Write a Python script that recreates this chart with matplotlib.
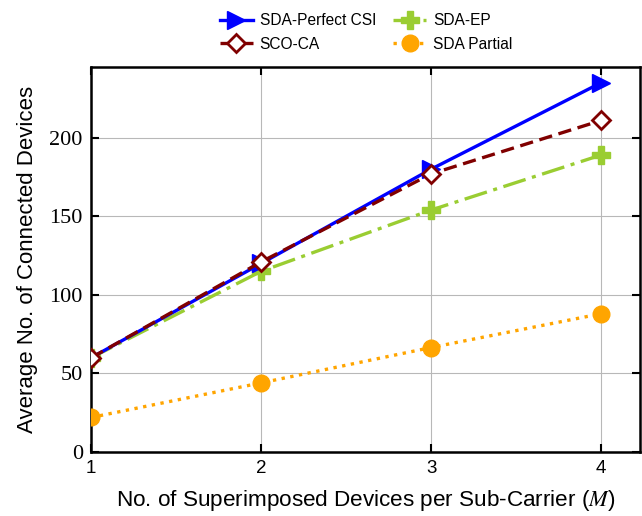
import matplotlib
matplotlib.use("Agg")
import matplotlib.pyplot as plt

plt.rcParams['font.family'] = ['Liberation Sans', 'DejaVu Sans']
plt.rcParams['mathtext.fontset'] = 'stix'

# data
M = [1, 2, 3, 4]
sda_perfect = [60, 120, 180, 235]
sco_ca = [60, 121, 177, 211]
sda_ep = [60, 115, 154, 189]
sda_partial = [22, 44, 66.5, 88]

fig = plt.figure(figsize=(6.42, 5.16), dpi=100)
ax = fig.add_axes([0.142, 0.124, 0.855, 0.746])

ax.plot(M, sda_perfect, color='#0000ff', ls='-', lw=2.4, marker='>', ms=13,
        label='SDA-Perfect CSI', zorder=5)
ax.plot(M, sco_ca, color='#800000', ls='--', lw=2.4, marker='D', ms=9,
        mfc='white', mew=2, label='SCO-CA', dashes=(4, 2), zorder=6)
ax.plot(M, sda_ep, color='#9acd32', ls='-.', lw=2.4, marker='P', ms=13,
        label='SDA-EP', dashes=(7, 2, 1.2, 2), zorder=4)
ax.plot(M, sda_partial, color='#ffa500', ls=':', lw=2.4, marker='o', ms=12,
        label='SDA Partial', zorder=3)

ax.set_xlim(1, 4.23)
ax.set_ylim(0, 245)
ax.set_xticks(M)
ax.set_yticks([0, 50, 100, 150, 200])
ax.grid(True, color='#b8b8b8', lw=0.8)
ax.tick_params(direction='in', top=True, right=True, length=6, width=1.5)
ax.tick_params(axis='x', labelsize=13.5, pad=6)
ax.tick_params(axis='y', labelsize=16, pad=6)
for lbl in ax.get_yticklabels():
    lbl.set_family(['Liberation Serif', 'DejaVu Serif'])
for s in ax.spines.values():
    s.set_linewidth(1.8)

ax.set_xlabel(r'No. of Superimposed Devices per Sub-Carrier ($M$)', fontsize=16.2, labelpad=8)
ax.set_ylabel('Average No. of Connected Devices', fontsize=16, labelpad=8)

ax.legend(ncol=2, frameon=False, fontsize=11.2, loc='lower center',
          bbox_to_anchor=(0.501, 1.02), handlelength=2.1, columnspacing=1.1,
          labelspacing=0.55, borderaxespad=0.1, handletextpad=0.45)

fig.savefig('out.png', dpi=100)
